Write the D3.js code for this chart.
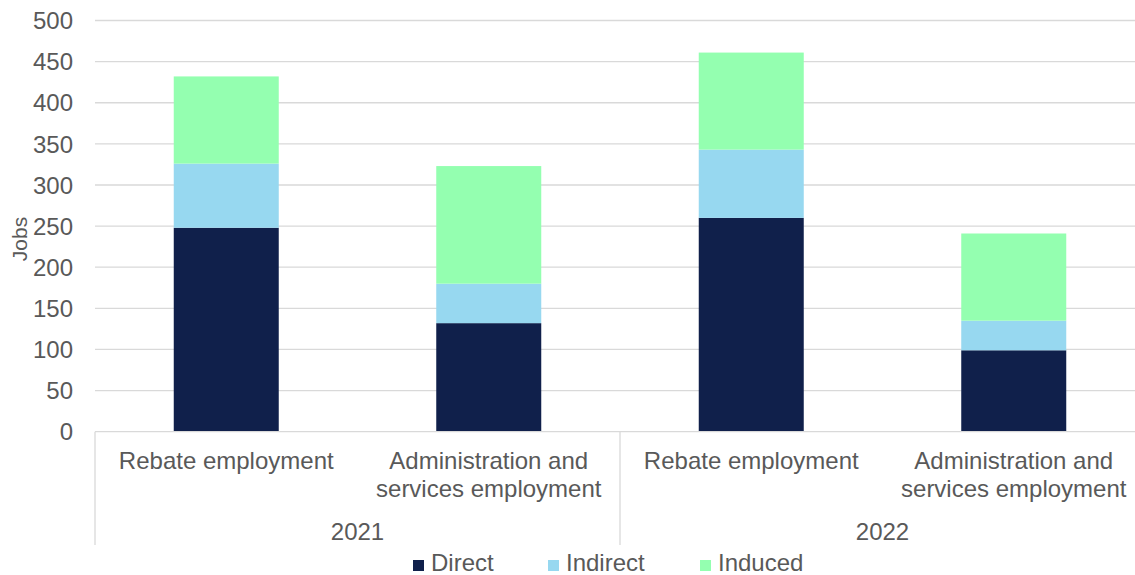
<!DOCTYPE html>
<html>
<head>
<meta charset="utf-8">
<script src="https://cdn.jsdelivr.net/npm/d3@7"></script>
<style>
  html, body { margin: 0; padding: 0; background: #ffffff; }
  svg { display: block; font-family: Arial, "Liberation Sans", sans-serif; }
</style>
</head>
<body>
<svg id="chart" width="1135" height="575"></svg>
<script>
// ---- Data ----
const years = ["2021", "2022"];
const categoryLabels = [
  ["Rebate employment"],
  ["Administration and", "services employment"],
  ["Rebate employment"],
  ["Administration and", "services employment"]
];
const categoryYears = ["2021", "2021", "2022", "2022"];
const seriesNames = ["Direct", "Indirect", "Induced"];
const directValues   = [248, 132, 260, 99];
const indirectValues = [78, 48, 83, 36];
const inducedValues  = [106, 143, 118, 106];
const yTicks = [0, 50, 100, 150, 200, 250, 300, 350, 400, 450, 500];
const colors = ["#10204b", "#97d8f0", "#94ffb0"];

(function () {
// ---- Layout ----
const svg = d3.select("#chart");
const plotLeft = 95, plotRight = 1145, plotTop = 20.5, plotBottom = 431.7;
const textColor = "#595959";
const fontSize = 24;

const keys = categoryLabels.map((d, i) => "c" + i);
const x = d3.scaleBand().domain(keys).range([plotLeft, plotRight]).paddingInner(0.6).paddingOuter(0.3);
const y = d3.scaleLinear().domain([0, 500]).range([plotBottom, plotTop]);

// gridlines
svg.append("g").selectAll("line").data(yTicks.filter(t => t > 0)).join("line")
  .attr("x1", plotLeft).attr("x2", plotRight)
  .attr("y1", d => y(d)).attr("y2", d => y(d))
  .attr("stroke", "#d9d9d9").attr("stroke-width", 1.3);

// y axis labels
const yAxis = d3.axisLeft(y).tickValues(yTicks).tickSize(0).tickPadding(0);
const yg = svg.append("g").attr("transform", `translate(73,0)`).call(yAxis);
yg.select(".domain").remove();
yg.selectAll("text").attr("font-size", fontSize).attr("fill", textColor)
  .attr("font-family", "Arial, 'Liberation Sans', sans-serif").attr("dy", "0.34em");

// y axis title
svg.append("text")
  .attr("transform", `translate(27,239) rotate(-90)`)
  .attr("text-anchor", "middle").attr("font-size", 21).attr("fill", textColor)
  .text("Jobs");

// stacked bars
const table = keys.map((k, i) => ({ key: k, Direct: directValues[i], Indirect: indirectValues[i], Induced: inducedValues[i] }));
const stack = d3.stack().keys(seriesNames)(table);
svg.append("g").selectAll("g").data(stack).join("g")
  .attr("fill", (d, i) => colors[i])
  .selectAll("rect").data(d => d).join("rect")
  .attr("x", d => x(d.data.key))
  .attr("width", x.bandwidth())
  .attr("y", d => y(d[1]))
  .attr("height", d => y(d[0]) - y(d[1]));

// category axis frame
const axisG = svg.append("g");
axisG.append("line").attr("x1", plotLeft).attr("x2", plotRight).attr("y1", plotBottom).attr("y2", plotBottom)
  .attr("stroke", "#d9d9d9").attr("stroke-width", 1.3);
const divider = (x("c1") + x.bandwidth() + x("c2")) / 2;
[plotLeft, divider, plotRight].forEach(px => {
  axisG.append("line").attr("x1", px).attr("x2", px).attr("y1", plotBottom).attr("y2", 545)
    .attr("stroke", "#d9d9d9").attr("stroke-width", 1.3);
});

// category labels
keys.forEach((k, i) => {
  const cx = x(k) + x.bandwidth() / 2;
  const t = svg.append("text").attr("text-anchor", "middle").attr("font-size", fontSize).attr("fill", textColor);
  categoryLabels[i].forEach((line, j) => {
    t.append("tspan").attr("x", cx).attr("y", 469 + j * 28).text(line);
  });
});

// year labels
years.forEach((yr) => {
  const ks = keys.filter((k, j) => categoryYears[j] === yr);
  const x0 = x(ks[0]) + x.bandwidth() / 2, x1 = x(ks[ks.length - 1]) + x.bandwidth() / 2;
  svg.append("text").attr("x", (x0 + x1) / 2).attr("y", 540)
    .attr("text-anchor", "middle").attr("font-size", fontSize).attr("fill", textColor).text(yr);
});

// legend
const legendX = [413, 548, 700];
seriesNames.forEach((s, i) => {
  svg.append("rect").attr("x", legendX[i]).attr("y", 560).attr("width", 11).attr("height", 11).attr("fill", colors[i]);
  svg.append("text").attr("x", legendX[i] + 18).attr("y", 571).attr("font-size", fontSize)
    .attr("fill", textColor).text(s);
});
})();
</script>
</body>
</html>
